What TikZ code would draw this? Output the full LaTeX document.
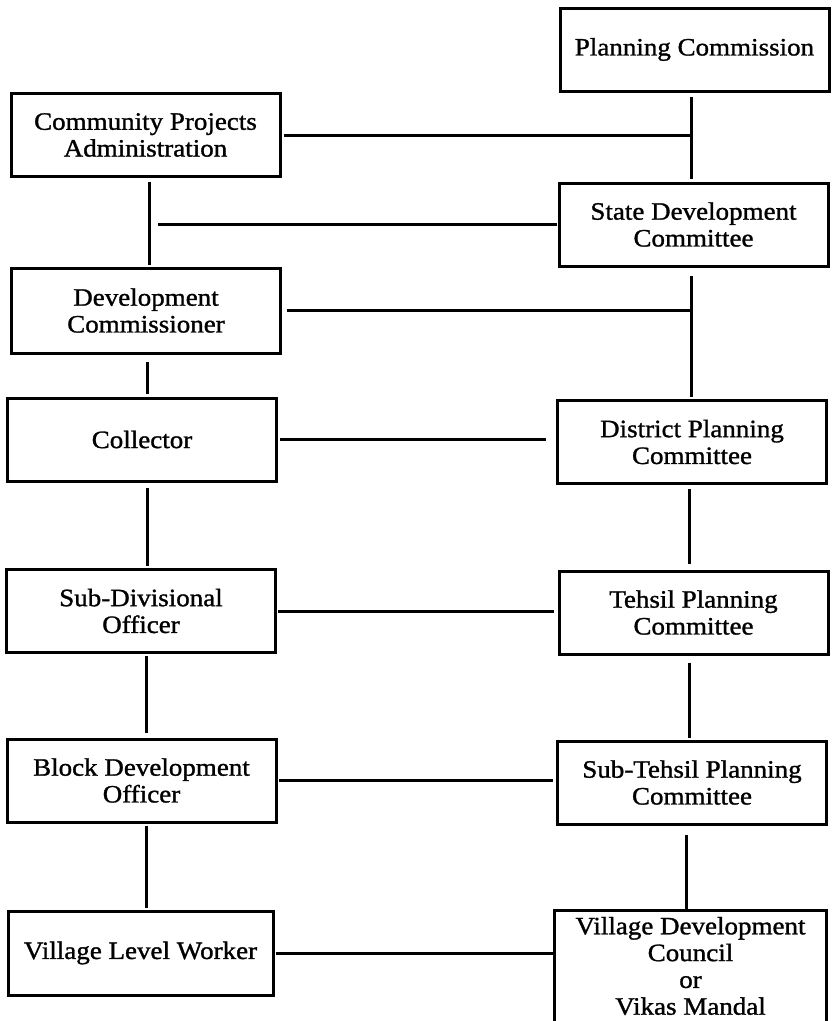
\documentclass[tikz,border=0pt]{standalone}
\usepackage{fontspec}
\setmainfont{Liberation Serif}[FakeStretch=1.08, FakeBold=1.2]
\begin{document}
\begin{tikzpicture}[x=1pt,y=-1pt,
  orgbox/.style={draw, line width=3pt, rectangle, minimum width=269pt, minimum height=83pt,
    inner sep=1pt, align=center, font=\fontsize{25}{26.8}\selectfont},
  link/.style={line width=3pt}]
\useasboundingbox (0,0) rectangle (832,1021);
% spine coordinates
\coordinate (R1) at (691,0);
\coordinate (R2) at (689,0);
\coordinate (R3) at (686,0);
\coordinate (L1) at (149,0);
\coordinate (L2) at (147,0);
\coordinate (L3) at (146,0);
% boxes
\node[orgbox] (pc) at (694.5,49.5) {Planning Commission};
\node[orgbox] (cpa) at (145.5,135) {Community Projects\\Administration};
\node[orgbox] (sdc) at (693.5,224.5) {State Development\\Committee};
\node[orgbox, minimum height=85pt] (dc) at (146,310.5) {Development\\Commissioner};
\node[orgbox] (col) at (142,439.5) {Collector};
\node[orgbox] (dpc) at (692,442) {District Planning\\Committee};
\node[orgbox] (sdo) at (141,611) {Sub-Divisional\\Officer};
\node[orgbox] (tpc) at (693.5,612.5) {Tehsil Planning\\Committee};
\node[orgbox] (bdo) at (141.5,780.5) {Block Development\\Officer};
\node[orgbox] (stpc) at (692,782.5) {Sub-Tehsil Planning\\Committee};
\node[orgbox, minimum height=84pt, minimum width=265pt] (vlw) at (140.5,953) {Village Level Worker};
\node[orgbox, draw=none, minimum height=108pt, inner sep=0pt] (vdc) at (690.5,966)
  {Village Development\\Council\\or\\Vikas Mandal};
\draw[link] (vdc.south west) -- (vdc.north west) -- (vdc.north east) -- (vdc.south east);
% vertical connectors, right column
\draw[link, shorten <=4pt, shorten >=3pt] (pc.south -| R1) -- (sdc.north -| R1);
\draw[link, shorten <=8pt, shorten >=2pt] (sdc.south -| R1) -- (dpc.north -| R1);
\draw[link, shorten <=4pt, shorten >=6pt] (dpc.south -| R2) -- (tpc.north -| R2);
\draw[link, shorten <=7pt, shorten >=2pt] (tpc.south -| R2) -- (stpc.north -| R2);
\draw[link, shorten <=9pt, shorten >=0pt] (stpc.south -| R3) -- (vdc.north -| R3);
% vertical connectors, left column
\draw[link, shorten <=4pt, shorten >=2pt] (cpa.south -| L1) -- (dc.north -| L1);
\draw[link, shorten <=7pt, shorten >=3pt] (dc.south -| L2) -- (col.north -| L2);
\draw[link, shorten <=5pt, shorten >=2pt] (col.south -| L2) -- (sdo.north -| L2);
\draw[link, shorten <=2pt, shorten >=5pt] (sdo.south -| L3) -- (bdo.north -| L3);
\draw[link, shorten <=2pt, shorten >=2pt] (bdo.south -| L3) -- (vlw.north -| L3);
% horizontal connectors
\draw[link, shorten <=2pt] (cpa.east) -- (cpa.east -| R1);
\draw[link, shorten <=1pt, shorten >=9pt] (sdc.west) -- (sdc.west -| L1);
\draw[link, shorten <=5pt] (dc.east) -- (dc.east -| R1);
\draw[link, shorten <=2pt, shorten >=10pt] (col.east) -- (col.east -| dpc.west);
\draw[link, shorten <=1pt, shorten >=4pt] (sdo.east) -- (sdo.east -| tpc.west);
\draw[link, shorten <=1pt, shorten >=3pt] (bdo.east) -- (bdo.east -| stpc.west);
\draw[link, shorten <=1pt, shorten >=2pt] (vlw.east) -- (vlw.east -| vdc.west);
\end{tikzpicture}
\end{document}
